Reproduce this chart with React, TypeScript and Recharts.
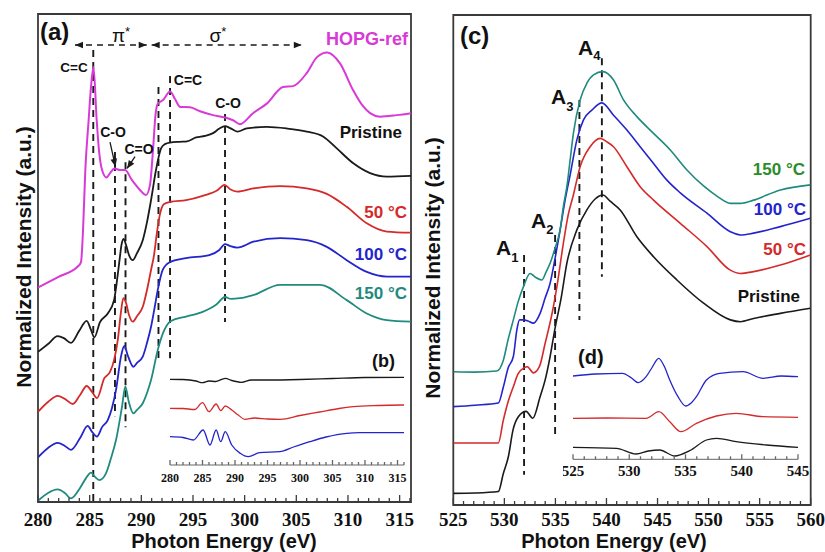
import React from "react";
import { LineChart, Line, XAxis, YAxis, ReferenceLine, ReferenceArea } from "recharts";

type Pt = [number, number];

// ---- C K-edge NEXAFS (panel a), [photon energy eV, intensity offset units] ----
const hopgRef: Pt[] = [
  [280.0, 5.47], [281.94, 5.74], [283.9, 6.02], [284.16, 6.12], [284.36, 6.94], [284.58, 8.47],
  [284.9, 9.74], [285.13, 10.59], [285.37, 11.1], [285.68, 9.74], [285.93, 8.9], [286.2, 8.47],
  [286.63, 8.28], [286.97, 8.39], [287.4, 8.51], [287.94, 8.47], [288.42, 8.47], [289.1, 8.21],
  [289.87, 7.96], [290.45, 7.83], [290.84, 8.09], [291.13, 8.98], [291.37, 9.87], [291.57, 10.15],
  [292.13, 10.26], [292.78, 10.47], [293.26, 10.28], [293.75, 10.08], [294.71, 10.07], [295.68, 9.97],
  [296.94, 9.87], [298.1, 9.81], [298.88, 9.74], [299.55, 9.64], [300.81, 9.92], [302.17, 10.17],
  [303.72, 10.59], [304.68, 10.61], [306.0, 10.94], [307.0, 11.35], [308.0, 11.47], [309.23, 11.19],
  [310.49, 10.51], [311.36, 10.13], [312.14, 9.92], [313.1, 9.83], [314.72, 9.87], [316.1, 9.92],
];
const pristineC: Pt[] = [
  [280.0, 3.83], [280.97, 4.03], [281.9, 4.23], [282.5, 4.18], [283.19, 4.06], [283.97, 4.36],
  [284.71, 4.62], [285.13, 4.39], [285.45, 4.2], [286.0, 4.59], [286.75, 4.81], [287.36, 5.15],
  [287.65, 5.66], [287.89, 6.17], [288.08, 6.56], [288.28, 6.71], [288.52, 6.56], [288.81, 6.3],
  [289.17, 6.17], [289.58, 6.35], [290.14, 6.68], [290.55, 7.14], [290.94, 7.7], [291.42, 8.47],
  [291.91, 9.02], [292.29, 9.13], [292.78, 9.17], [293.68, 9.19], [294.42, 9.2], [295.3, 9.3],
  [296.17, 9.34], [296.94, 9.41], [297.52, 9.52], [298.1, 9.59], [298.59, 9.54], [299.29, 9.45],
  [300.2, 9.53], [302.14, 9.57], [304.07, 9.53], [306.01, 9.45], [307.62, 9.32], [308.92, 9.02],
  [310.52, 8.64], [312.14, 8.39], [313.76, 8.3], [316.1, 8.32],
];
const c50C: Pt[] = [
  [280.0, 2.3], [280.97, 2.55], [281.9, 2.71], [282.6, 2.63], [283.36, 2.5], [284.07, 2.73],
  [284.71, 2.96], [285.23, 2.81], [285.71, 2.65], [286.42, 3.16], [286.97, 3.32], [287.36, 3.62],
  [287.72, 4.13], [288.03, 4.85], [288.26, 5.2], [288.52, 5.08], [288.81, 4.77], [289.17, 4.6],
  [289.58, 4.74], [290.14, 4.98], [290.55, 5.41], [290.94, 5.92], [291.23, 6.3], [291.52, 6.89],
  [291.81, 7.35], [292.2, 7.6], [292.87, 7.66], [294.33, 7.7], [295.94, 7.81], [297.4, 7.96],
  [298.05, 8.09], [298.59, 7.98], [299.29, 7.92], [300.84, 8.0], [303.43, 8.06], [306.01, 8.0],
  [307.95, 7.86], [309.88, 7.53], [311.82, 7.11], [313.76, 6.9], [316.1, 6.87],
];
const c100C: Pt[] = [
  [280.0, 1.14], [280.97, 1.38], [281.9, 1.51], [282.6, 1.43], [283.19, 1.33], [284.07, 1.63],
  [284.81, 1.94], [285.23, 1.79], [285.71, 1.67], [286.2, 1.91], [286.75, 2.09], [287.16, 2.4],
  [287.55, 2.86], [288.03, 3.71], [288.35, 3.98], [288.71, 3.72], [289.23, 3.45], [289.58, 3.55],
  [290.14, 3.71], [290.55, 4.06], [290.94, 4.47], [291.28, 4.95], [291.59, 5.41], [292.07, 5.92],
  [292.71, 6.11], [294.33, 6.22], [296.58, 6.3], [297.55, 6.43], [298.1, 6.58], [298.59, 6.53],
  [299.29, 6.49], [300.84, 6.64], [303.43, 6.73], [306.01, 6.68], [307.95, 6.51], [309.88, 6.17],
  [311.82, 5.87], [313.76, 5.75], [316.1, 5.75],
];
const c150C: Pt[] = [
  [280.0, 0.03], [280.97, 0.23], [281.9, 0.32], [282.6, 0.23], [283.19, 0.09], [284.07, 0.36],
  [284.65, 0.61], [285.13, 0.75], [285.52, 0.64], [285.93, 0.56], [286.58, 0.73], [287.07, 1.12],
  [287.55, 1.58], [288.13, 2.43], [288.45, 2.94], [288.81, 2.53], [289.23, 2.26], [289.58, 2.35],
  [290.14, 2.52], [290.55, 2.78], [290.94, 3.11], [291.59, 3.88], [292.23, 4.39], [292.87, 4.62],
  [294.33, 4.73], [295.94, 4.85], [297.23, 5.03], [298.1, 5.23], [298.68, 5.18], [299.55, 5.2],
  [300.84, 5.28], [303.43, 5.54], [307.3, 5.54], [309.88, 5.15], [311.82, 4.81], [313.76, 4.64],
  [316.1, 4.6],
];

// ---- C K-edge difference spectra (inset b) ----
const diffPristineC: Pt[] = [
  [280, 8.57], [282, 8.55], [284, 8.4], [285, 8.23], [286, 8.4], [287, 8.35], [288.5, 8.67],
  [289.5, 8.45], [291, 8.27], [292.5, 8.5], [295, 8.5], [300, 8.55], [305, 8.65], [310, 8.75], [316, 8.77],
];
const diff50C: Pt[] = [
  [280, 5.67], [282, 5.65], [283.8, 5.55], [285.0, 6.23], [286.0, 5.33], [287.1, 6.1], [287.8, 5.43],
  [288.5, 5.9], [289.5, 5.5], [290.5, 5.0], [291.5, 4.57], [293, 4.7], [295, 4.6], [297, 4.57],
  [300, 4.95], [303, 5.3], [306, 5.65], [308.2, 5.83], [312, 5.95], [316, 6.0],
];
const diff100C: Pt[] = [
  [280, 2.83], [282, 2.75], [283.6, 2.5], [285.1, 3.5], [286.15, 2.0], [287.1, 3.5], [287.8, 2.33],
  [288.5, 3.33], [289.5, 2.0], [290.8, 1.17], [292.05, 0.83], [293.8, 1.23], [296.9, 1.33], [299, 1.8],
  [301.5, 2.33], [304, 2.8], [307.2, 3.17], [309.2, 3.23], [316, 3.23],
];

// ---- O K-edge NEXAFS (panel c) ----
const oPristine: Pt[] = [
  [525.0, 0.32], [527.13, 0.33], [529.41, 0.37], [529.9, 0.87], [530.39, 1.33], [530.85, 2.07],
  [531.37, 2.43], [532.13, 2.58], [532.78, 2.39], [533.5, 2.98], [533.99, 3.44], [534.48, 4.09],
  [534.97, 4.88], [535.56, 5.7], [536.12, 6.66], [537.1, 7.58], [538.08, 8.13], [538.89, 8.43],
  [539.65, 8.54], [540.36, 8.37], [541.34, 8.13], [542.98, 7.39], [544.61, 6.84], [546.9, 6.2],
  [549.51, 5.56], [552.13, 5.1], [553.11, 5.05], [554.41, 5.14], [557.03, 5.28], [559.97, 5.42],
];
const o50C: Pt[] = [
  [525.0, 1.71], [527.13, 1.71], [529.41, 1.71], [529.9, 2.34], [530.36, 2.84], [530.88, 3.26],
  [531.34, 3.61], [531.93, 3.78], [532.25, 3.81], [532.84, 3.64], [533.43, 3.81], [533.99, 4.45],
  [534.31, 4.82], [534.68, 5.29], [535.17, 6.06], [535.75, 7.16], [536.25, 7.99], [536.76, 8.54],
  [537.42, 9.32], [538.4, 9.87], [539.38, 10.1], [540.07, 10.0], [540.69, 9.87], [542.0, 9.32],
  [543.3, 8.77], [544.61, 8.4], [547.23, 7.76], [549.84, 7.12], [552.13, 6.47], [553.11, 6.38],
  [554.41, 6.43], [557.03, 6.61], [559.97, 6.89],
];
const o100C: Pt[] = [
  [525.0, 2.71], [527.13, 2.75], [529.41, 2.81], [529.9, 3.25], [530.36, 3.77], [530.88, 4.09],
  [531.22, 4.82], [531.49, 5.1], [531.86, 5.1], [532.32, 5.07], [532.84, 5.01], [533.5, 5.28],
  [533.99, 5.7], [534.48, 6.11], [534.97, 6.8], [535.46, 7.58], [535.95, 8.4], [536.44, 9.09],
  [537.1, 10.06], [537.75, 10.61], [538.57, 10.88], [539.55, 11.08], [540.69, 10.74], [542.0, 10.33],
  [543.3, 9.87], [544.61, 9.41], [545.92, 8.95], [547.23, 8.6], [549.84, 8.04], [552.13, 7.53],
  [553.11, 7.44], [554.41, 7.49], [557.03, 7.67], [559.97, 7.9],
];
const o150C: Pt[] = [
  [525.0, 3.67], [527.13, 3.66], [529.25, 3.69], [529.9, 3.99], [530.36, 4.55], [530.88, 5.1],
  [531.34, 5.59], [531.86, 6.01], [532.52, 6.38], [533.01, 6.28], [533.67, 6.2], [534.09, 6.42],
  [534.48, 6.66], [534.97, 7.08], [535.46, 7.58], [535.8, 8.26], [536.12, 8.77], [536.44, 9.5],
  [536.76, 10.24], [537.42, 11.16], [538.08, 11.62], [538.73, 11.85], [539.65, 11.94], [540.69, 11.71],
  [541.67, 11.16], [542.98, 10.7], [544.61, 10.24], [546.25, 9.78], [547.88, 9.23], [549.51, 8.79],
  [550.82, 8.51], [552.13, 8.31], [553.11, 8.31], [554.41, 8.4], [557.03, 8.68], [559.97, 8.82],
];

// ---- O K-edge difference spectra (inset d) ----
const oDiffPristine: Pt[] = [
  [525, 1.2], [528.86, 1.1], [530.6, 0.53], [531.7, 0.83], [532.7, 0.93], [534.04, 0.33],
  [535.37, 0.86], [536.86, 1.93], [537.75, 2.1], [539.5, 1.76], [542.2, 1.43], [545, 1.2],
];
const oDiff50C: Pt[] = [
  [525, 4.1], [528, 4.13], [531.5, 4.1], [532.64, 4.76], [533.6, 3.76], [534.6, 2.76],
  [535.97, 3.6], [537.75, 4.33], [539.5, 4.6], [541.9, 4.26], [545, 4.2],
];
const oDiff100C: Pt[] = [
  [525, 8.33], [527, 8.53], [529.4, 8.6], [530.2, 8.13], [530.78, 7.66], [531.5, 8.26], [532.0, 9.13],
  [532.62, 10.1], [533.1, 9.33], [533.6, 7.93], [534.33, 6.26], [535.02, 5.33], [535.5, 5.63],
  [535.97, 6.26], [536.86, 7.93], [538.04, 8.6], [540.1, 8.76], [541.9, 8.1], [543.5, 8.33], [545, 8.26],
];

// axis ticks
const majorC = [280, 285, 290, 295, 300, 305, 310, 315];
const majorO = [525, 530, 535, 540, 545, 550, 555, 560];
const majorOInset = [525, 530, 535, 540, 545];
const range = (a: number, b: number) => Array.from({ length: b - a + 1 }, (_, i) => a + i);
const ticksA = range(280, 316);
const ticksC = range(525, 560);
const ticksB = range(280, 316);
const ticksD = range(525, 545);
const yTicksA = [0.5, 1.5, 2.5, 3.5, 4.5, 5.5, 6.5, 7.5, 8.5, 9.5, 10.5, 11.5];
const yTicksC = [1, 2, 3, 4, 5, 6, 7, 8, 9, 10, 11, 12, 13];

const rows = (pts: Pt[]) => pts.map(([e, v]) => ({ e, v }));

const COL = {
  ink: "#1a1a1a",
  frame: "#3a3a3a",
  magenta: "#d83ad8",
  red: "#d42a2a",
  blue: "#2424cc",
  teal: "#1f8a7e",
  green: "#2a8c2a",
};
const serif = "'Liberation Serif', 'Times New Roman', serif";
const sans = "'Liberation Sans', Arial, sans-serif";

const xTick = (major: number[], long: number, short: number, size: number, dy: number, color: string) =>
  (props: any) => {
    const { x, y, payload } = props;
    const isMajor = major.includes(payload.value);
    return (
      <g>
        <line x1={x} x2={x} y1={y} y2={y - (isMajor ? long : short)} stroke={color} strokeWidth={1.3} />
        {isMajor && (
          <text x={x} y={y + dy} textAnchor="middle" fontFamily={serif} fontWeight="bold" fontSize={size} fill="#111">
            {payload.value}
          </text>
        )}
      </g>
    );
  };

const yTick = (props: any) => {
  const { x, y } = props;
  return <line x1={x} x2={x + 6} y1={y} y2={y} stroke={COL.frame} strokeWidth={1.3} />;
};

// dashed segment with optional filled arrow heads
const arrowLine = (heads: "none" | "end" | "both", dash: string, width: number) => (p: any) => {
  const { x1, y1, x2, y2 } = p;
  const a = Math.atan2(y2 - y1, x2 - x1);
  const head = (x: number, y: number, ang: number) => {
    const L = 8, W = 3.3;
    const bx = x - L * Math.cos(ang), by = y - L * Math.sin(ang);
    return `${x},${y} ${bx - W * Math.sin(ang)},${by + W * Math.cos(ang)} ${bx + W * Math.sin(ang)},${by - W * Math.cos(ang)}`;
  };
  return (
    <g>
      <line x1={x1} y1={y1} x2={x2} y2={y2} stroke={COL.ink} strokeWidth={width} strokeDasharray={dash} />
      {heads !== "none" && <polygon points={head(x2, y2, a)} fill={COL.ink} />}
      {heads === "both" && <polygon points={head(x1, y1, a + Math.PI)} fill={COL.ink} />}
    </g>
  );
};

const vDash = arrowLine("none", "7 5", 1.9);

// guide lines: [energy, top, bottom] in chart units
const guidesA: [number, number, number][] = [
  [285.35, 11.53, 0], [287.45, 8.93, 2.19], [288.47, 8.67, 1.91],
  [291.66, 10.59, 3.67], [292.78, 10.87, 3.67], [298.1, 9.9, 4.59],
];
const guidesC: [number, number, number][] = [
  [531.93, 6.89, 0.83], [534.97, 7.44, 1.88], [537.35, 11.16, 5.1], [539.55, 12.31, 6.29],
];

const line = (pts: Pt[], color: string, w: number, key: string) => (
  <Line key={key} data={rows(pts)} dataKey="v" type="monotone" stroke={color} strokeWidth={w} dot={false} isAnimationActive={false} />
);

function PanelA() {
  return (
    <LineChart width={420} height={552} margin={{ top: 14, right: 9, bottom: 20, left: 38 }}>
      <XAxis dataKey="e" type="number" domain={[280, 316.1]} allowDataOverflow ticks={ticksA} interval={0}
        tickSize={0} tickMargin={0} axisLine={false} tickLine={false} height={30}
        tick={xTick(majorC, 7, 4, 19, 24, COL.frame)} />
      <YAxis type="number" domain={[0, 12.45]} allowDataOverflow ticks={yTicksA} interval={0} width={0}
        tickSize={0} tickMargin={0} axisLine={false} tickLine={false} tick={yTick} />
      <ReferenceArea x1={280} x2={316.1} y1={0} y2={12.45} fill="none" stroke={COL.frame} strokeWidth={1.8} />
      {guidesA.map(([e, top, bot], i) => (
        <ReferenceLine key={"g" + i} segment={[{ x: e, y: top }, { x: e, y: bot }]} shape={vDash} />
      ))}
      <ReferenceLine segment={[{ x: 283.58, y: 11.66 }, { x: 290.52, y: 11.66 }]} shape={arrowLine("both", "6 5", 1.6)} />
      <ReferenceLine segment={[{ x: 291.0, y: 11.66 }, { x: 305.53, y: 11.66 }]} shape={arrowLine("both", "6 5", 1.6)} />
      <ReferenceLine segment={[{ x: 286.97, y: 9.18 }, { x: 287.5, y: 8.55 }]} shape={arrowLine("end", "none", 1.3)} />
      <ReferenceLine segment={[{ x: 289.39, y: 8.81 }, { x: 288.62, y: 8.51 }]} shape={arrowLine("end", "none", 1.3)} />
      {line(hopgRef, COL.magenta, 2, "hopg")}
      {line(pristineC, COL.ink, 1.8, "p")}
      {line(c50C, COL.red, 1.8, "50")}
      {line(c100C, COL.blue, 1.8, "100")}
      {line(c150C, COL.teal, 1.8, "150")}
    </LineChart>
  );
}

function InsetB() {
  return (
    <LineChart width={260} height={140} margin={{ top: 15, right: 16, bottom: 5, left: 10 }}>
      <XAxis dataKey="e" type="number" domain={[280, 316]} allowDataOverflow ticks={ticksB} interval={0}
        tickSize={0} tickMargin={0} tickLine={false} height={20} axisLine={{ stroke: "#666", strokeWidth: 1 }}
        tick={xTick(majorC, 5, 3, 12, 16.5, "#666")} />
      <YAxis type="number" domain={[0, 10]} hide />
      {line(diffPristineC, COL.ink, 1.3, "bp")}
      {line(diff50C, COL.red, 1.3, "b50")}
      {line(diff100C, COL.blue, 1.3, "b100")}
    </LineChart>
  );
}

function PanelC() {
  return (
    <LineChart width={405} height={552} margin={{ top: 15, right: 14.3, bottom: 17, left: 33.3 }}>
      <XAxis dataKey="e" type="number" domain={[525, 560]} allowDataOverflow ticks={ticksC} interval={0}
        tickSize={0} tickMargin={0} axisLine={false} tickLine={false} height={30}
        tick={xTick(majorO, 7, 4, 19, 21, COL.frame)} />
      <YAxis type="number" domain={[0, 13.5]} allowDataOverflow ticks={yTicksC} interval={0} width={0}
        tickSize={0} tickMargin={0} axisLine={false} tickLine={false} tick={yTick} />
      <ReferenceArea x1={525} x2={560} y1={0} y2={13.5} fill="none" stroke={COL.frame} strokeWidth={1.8} />
      {guidesC.map(([e, top, bot], i) => (
        <ReferenceLine key={"g" + i} segment={[{ x: e, y: top }, { x: e, y: bot }]} shape={vDash} />
      ))}
      {line(oPristine, COL.ink, 1.6, "p")}
      {line(o50C, COL.red, 1.6, "50")}
      {line(o100C, COL.blue, 1.6, "100")}
      {line(o150C, COL.teal, 1.6, "150")}
    </LineChart>
  );
}

function InsetD() {
  return (
    <LineChart width={250} height={150} margin={{ top: 14.3, right: 15, bottom: 5.7, left: 10 }}>
      <XAxis dataKey="e" type="number" domain={[525, 545]} allowDataOverflow ticks={ticksD} interval={0}
        tickSize={0} tickMargin={0} tickLine={false} height={20} axisLine={{ stroke: "#666", strokeWidth: 1 }}
        tick={xTick(majorOInset, 5, 3, 15, 17, "#666")} />
      <YAxis type="number" domain={[0, 11]} hide />
      {line(oDiffPristine, COL.ink, 1.3, "dp")}
      {line(oDiff50C, COL.red, 1.3, "d50")}
      {line(oDiff100C, COL.blue, 1.3, "d100")}
    </LineChart>
  );
}

const T = (p: { x: number; y: number; c?: string; s?: number; a?: "start" | "middle" | "end"; w?: string; children: React.ReactNode }) => (
  <text x={p.x} y={p.y} fill={p.c || "#111"} fontSize={p.s || 14} textAnchor={p.a || "start"}
    fontFamily={sans} fontWeight={p.w || "bold"}>
    {p.children}
  </text>
);

function Labels() {
  return (
    <svg width={825} height={552} style={{ position: "absolute", left: 0, top: 0, pointerEvents: "none" }}>
      {/* panel a */}
      <T x={40} y={40} s={24}>(a)</T>
      <T x={121} y={42} s={19} a="middle" w="normal">π<tspan dy={-6} fontSize={13}>*</tspan></T>
      <T x={218} y={42} s={19} a="middle" w="normal">σ<tspan dy={-6} fontSize={13}>*</tspan></T>
      <T x={408} y={45} s={18} a="end" c={COL.magenta}>HOPG-ref</T>
      <T x={74} y={71.5} s={13.5} a="middle">C=C</T>
      <T x={113} y={137} s={14} a="middle">C-O</T>
      <T x={139} y={154} s={14} a="middle">C=O</T>
      <T x={188} y={85} s={14} a="middle">C=C</T>
      <T x={228} y={108} s={14} a="middle">C-O</T>
      <T x={402} y={138} s={17} a="end">Pristine</T>
      <T x={407} y={218} s={17} a="end" c={COL.red}>50 °C</T>
      <T x={407} y={260} s={17} a="end" c={COL.blue}>100 °C</T>
      <T x={407} y={299} s={17} a="end" c={COL.teal}>150 °C</T>
      <T x={372} y={367} s={18}>(b)</T>
      <text transform="translate(31,257) rotate(-90)" textAnchor="middle" fontFamily={sans} fontWeight="bold" fontSize={21} fill="#111">
        Normalized Intensity (a.u.)
      </text>
      <T x={224} y={548} s={20} a="middle">Photon Energy (eV)</T>

      {/* panel c */}
      <T x={460} y={44} s={24}>(c)</T>
      <T x={578} y={55} s={21}>A<tspan dy={5} fontSize={13}>4</tspan></T>
      <T x={551} y={103.5} s={21}>A<tspan dy={7} fontSize={13}>3</tspan></T>
      <T x={531} y={228} s={21}>A<tspan dy={6} fontSize={13}>2</tspan></T>
      <T x={496} y={255} s={21}>A<tspan dy={7} fontSize={13}>1</tspan></T>
      <T x={805} y={175} s={17} a="end" c={COL.green}>150 °C</T>
      <T x={806} y={215} s={17} a="end" c={COL.blue}>100 °C</T>
      <T x={806} y={255} s={17} a="end" c={COL.red}>50 °C</T>
      <T x={800} y={302} s={17} a="end">Pristine</T>
      <T x={578} y={364} s={20}>(d)</T>
      <text transform="translate(440,268) rotate(-90)" textAnchor="middle" fontFamily={sans} fontWeight="bold" fontSize={21} fill="#111">
        Normalized Intensity (a.u.)
      </text>
      <T x={614} y={548} s={20} a="middle">Photon Energy (eV)</T>
    </svg>
  );
}

export default function App() {
  return (
    <div style={{ position: "absolute", left: 0, top: 0, width: 825, height: 552, background: "#fff" }}>
      <div style={{ position: "absolute", left: 0, top: 0 }}><PanelA /></div>
      <div style={{ position: "absolute", left: 420, top: 0 }}><PanelC /></div>
      <div style={{ position: "absolute", left: 160, top: 350 }}><InsetB /></div>
      <div style={{ position: "absolute", left: 563.3, top: 335 }}><InsetD /></div>
      <Labels />
    </div>
  );
}
